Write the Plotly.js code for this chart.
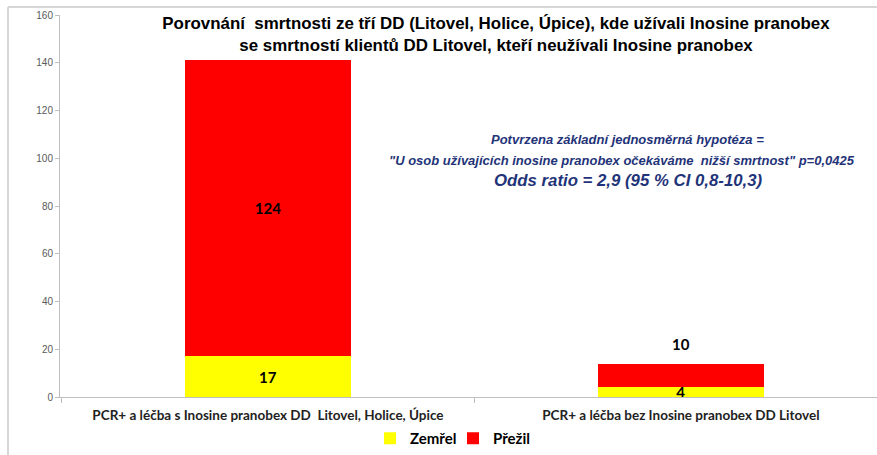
<!DOCTYPE html>
<html><head><meta charset="utf-8">
<script src="https://cdn.plot.ly/plotly-3.0.1.min.js"></script>
<style>body{margin:0;background:#fff}#chart{width:877px;height:455px}</style>
</head><body><div id="chart"></div>
<script>
const categories = ["PCR+ a léčba s Inosine pranobex DD\u00a0 Litovel, Holice, Úpice", "PCR+ a léčba bez Inosine pranobex DD Litovel"];
const zemrel = [17, 4];
const prezil = [124, 10];
const seriesNames = ["Zemřel", "Přežil"];
const yTicks = [0, 20, 40, 60, 80, 100, 120, 140, 160];
const titleLines = ["Porovnání&nbsp; smrtnosti ze tří DD (Litovel, Holice, Úpice), kde užívali Inosine pranobex",
                    "se smrtností klientů DD Litovel, kteří neužívali Inosine pranobex"];
const noteLines = ["Potvrzena základní jednosměrná hypotéza =",
                   "\"U osob užívajících inosine pranobex očekáváme&nbsp; nižší smrtnost\" p=0,0425",
                   "Odds ratio = 2,9 (95 % CI 0,8-10,3)"];

const ARIAL = "'Liberation Sans', Arial, sans-serif";
const CAL = "Lato, 'Open Sans', sans-serif";
const NAVY = "#1F3479";

// red labels drawn inside the segment, except the short one which sits above its stack
const redInside = prezil.map(v => v >= 20);

const traces = [
  {type: "bar", name: seriesNames[0], x: categories, y: zemrel, width: 0.402,
   marker: {color: "#FFFF00"}, text: zemrel.map(String), textposition: "inside",
   insidetextanchor: "middle", constraintext: "none", textangle: 0,
   textfont: {family: CAL, size: 15, color: "#000", weight: "bold"}},
  {type: "bar", name: seriesNames[1], x: categories, y: prezil, width: 0.402,
   marker: {color: "#FF0000"}, text: prezil.map(String),
   textposition: redInside.map(f => f ? "inside" : "none"),
   insidetextanchor: "middle", constraintext: "none", textangle: 0,
   textfont: {family: CAL, size: 15, color: "#000", weight: "bold"}}
];

const labelAnnots = categories.map((c, i) => redInside[i] ? null : {
  text: "<b>" + prezil[i] + "</b>", x: c, y: zemrel[i] + prezil[i], xref: "x", yref: "y",
  yanchor: "bottom", yshift: 9, showarrow: false,
  font: {family: CAL, size: 15, color: "#000"}
}).filter(a => a);

const layout = {
  width: 877, height: 455,
  margin: {l: 60, r: 0, t: 15, b: 58, pad: 0},
  paper_bgcolor: "#fff", plot_bgcolor: "#fff",
  barmode: "stack",
  showlegend: true,
  legend: {orientation: "h", x: 0.481, xanchor: "center", y: -0.11, yanchor: "middle",
           entrywidth: 38, entrywidthmode: "pixels",
           font: {family: CAL, size: 15, color: "#000", weight: "bold"}, traceorder: "normal"},
  title: {text: titleLines.join("<br>"), x: (496 - 60) / 817, xref: "paper", xanchor: "center",
          y: 1 - 29 / 455, yanchor: "top",
          font: {family: ARIAL, size: 16.9, color: "#000", weight: "bold"}},
  xaxis: {type: "category", range: [-0.5036, 1.475], showline: true, linecolor: "#BFBFBF", linewidth: 1,
          ticks: "outside", tickson: "boundaries", ticklen: 5, tickcolor: "#BFBFBF",
          ticklabelstandoff: 6,
          showgrid: false, zeroline: false, fixedrange: true,
          tickfont: {family: CAL, size: 13.5, color: "#222", weight: "bold"}},
  yaxis: {range: [0, 160], tickvals: yTicks, ticktext: yTicks.map(String), showline: true,
          linecolor: "#BFBFBF", linewidth: 1, ticks: "outside", ticklen: 4, tickcolor: "#BFBFBF",
          showgrid: false, zeroline: false, fixedrange: true,
          tickfont: {family: ARIAL, size: 10, color: "#595959"}},
  annotations: [
    {text: "<b><i>" + noteLines[0] + "</i></b>", xref: "paper", yref: "paper",
     x: (627.5 - 60) / 817, y: (397 - 139) / 382, xanchor: "center", yanchor: "middle", showarrow: false,
     font: {family: ARIAL, size: 13, color: NAVY}},
    {text: "<b><i>" + noteLines[1] + "</i></b>", xref: "paper", yref: "paper",
     x: (621.5 - 60) / 817, y: (397 - 160) / 382, xanchor: "center", yanchor: "middle", showarrow: false,
     font: {family: ARIAL, size: 13, color: NAVY}},
    {text: "<b><i>" + noteLines[2] + "</i></b>", xref: "paper", yref: "paper",
     x: (628.5 - 60) / 817, y: (397 - 180) / 382, xanchor: "center", yanchor: "middle", showarrow: false,
     font: {family: ARIAL, size: 16.8, color: NAVY}}
  ].concat(labelAnnots),
  shapes: [
    {type: "line", xref: "paper", yref: "paper", x0: (8 - 60) / 817, x1: 1.05, y0: (397 - 7) / 382, y1: (397 - 7) / 382,
     line: {color: "#C8C8C8", width: 1.5}},
    {type: "line", xref: "paper", yref: "paper", x0: (8 - 60) / 817, x1: (8 - 60) / 817, y0: -0.2, y1: (397 - 7) / 382,
     line: {color: "#C8C8C8", width: 1.5}}
  ]
};

Plotly.newPlot("chart", traces, layout, {displayModeBar: false, staticPlot: true});
</script></body></html>
